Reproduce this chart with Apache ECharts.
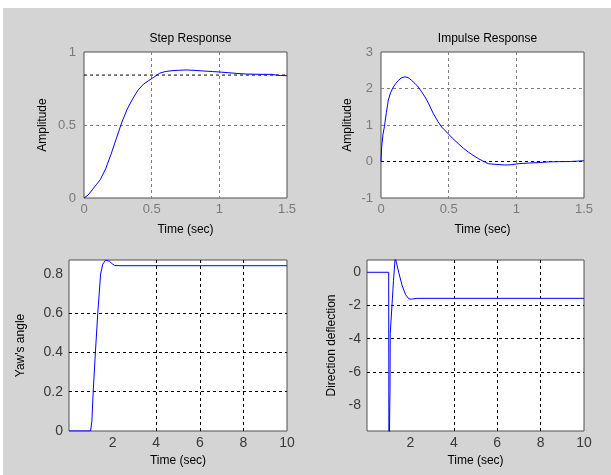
<!DOCTYPE html>
<html>
<head>
<meta charset="utf-8">
<script src="https://cdn.jsdelivr.net/npm/echarts@6/dist/echarts.min.js"></script>
<style>
html,body{margin:0;padding:0;background:#fff;width:611px;height:475px;overflow:hidden;}
#bg{position:absolute;left:3px;top:8px;width:608px;height:467px;background:#d4d4d4;}
#chart{position:absolute;left:0;top:0;width:611px;height:475px;}
</style>
</head>
<body>
<div id="bg"></div>
<div id="chart"></div>
<script>
// Step response
const stepT = [0,0.03,0.06,0.09,0.12,0.16,0.2,0.24,0.28,0.32,0.36,0.4,0.44,0.48,0.52,0.56,0.6,0.65,0.7,0.76,0.82,0.88,0.95,1.0,1.07,1.13,1.2,1.3,1.38,1.39,1.45,1.5];
const stepY = [0,0.02,0.055,0.09,0.125,0.2,0.3,0.41,0.52,0.61,0.68,0.74,0.78,0.805,0.83,0.855,0.866,0.872,0.875,0.877,0.874,0.87,0.866,0.863,0.858,0.853,0.849,0.847,0.847,0.839,0.839,0.838];
const stepFinal = 0.842;
// Impulse response
const impT = [0,0.005,0.015,0.025,0.04,0.054,0.07,0.091,0.11,0.128,0.15,0.177,0.2,0.227,0.25,0.276,0.3,0.325,0.35,0.387,0.42,0.448,0.497,0.53,0.571,0.61,0.645,0.68,0.719,0.76,0.793,0.85,0.916,0.96,1.015,1.1,1.163,1.24,1.31,1.4,1.5];
const impY = [0,0.4,0.75,0.95,1.35,1.68,1.88,2.04,2.14,2.22,2.29,2.32,2.30,2.22,2.14,2.04,1.91,1.77,1.6,1.31,1.1,0.945,0.76,0.63,0.49,0.36,0.26,0.17,0.08,0.0,-0.06,-0.08,-0.096,-0.09,-0.06,-0.04,-0.03,-0.01,-0.005,0.0,0.02];
const impFinal = 0;
// Yaw's angle
const yawT = [0,0.99,1.05,1.11,1.21,1.32,1.45,1.55,1.68,1.76,1.85,2.0,2.1,2.3,10];
const yawY = [0,0,0.05,0.2,0.4,0.6,0.8,0.85,0.87,0.875,0.865,0.85,0.843,0.842,0.842];
// Direction deflection
const dirT = [0,1.0,1.01,1.06,1.07,1.14,1.17,1.22,1.3,1.36,1.46,1.62,1.78,1.93,2.05,2.3,10];
const dirY = [0,0,-12,-7.1,-3.7,-3.6,-1.6,-0.5,0.9,0.9,0.0,-0.8,-1.35,-1.6,-1.62,-1.57,-1.57];

// Tick values / labels
const stepTicks = [0,0.5,1];
const impTicks = [-1,0,1,2,3];
const shortTimeTicks = [0,0.5,1,1.5];
const yawTicks = [0,0.2,0.4,0.6,0.8];
const dirTicks = [-8,-6,-4,-2,0];
const longTimeTicks = [2,4,6,8,10];

const titles = ['Step Response','Impulse Response'];
const timeLabel = 'Time (sec)';
const yNames = ['Amplitude','Amplitude',"Yaw's angle",'Direction deflection'];

const zip = (a,b)=>a.map((v,i)=>[v,b[i]]);
const FONT = 'Liberation Sans, Arial, sans-serif';

const grids = [
  {left:84, top:52, width:203, height:146},
  {left:381, top:52, width:203, height:146},
  {left:69, top:260, width:218, height:171},
  {left:367, top:260, width:217, height:171}
].map(g=>Object.assign(g,{show:true,backgroundColor:'#fff',borderColor:'#505050',borderWidth:1}));

function axisCommon(ticks, top){
  return {
    axisLine:{show:false},
    axisTick:{show:false, customValues: ticks},
    axisLabel:{color: top?'#7a7a7a':'#3a3a3a', fontSize: top?13:14, fontFamily:FONT, customValues: ticks},
    splitLine:{show:true, showMinLine:false, showMaxLine:false, lineStyle:{color: top?'#808080':'#000', type:[3,3], width:1}}
  };
}
function xAx(i, min, max, ticks, top){
  const c = axisCommon(ticks, top);
  c.axisLabel.margin = 5;
  return Object.assign({
    type:'value', gridIndex:i, min:min, max:max,
    name: timeLabel, nameLocation:'middle', nameGap: top?26:24,
    nameTextStyle:{color:'#000', fontSize:12, fontFamily:FONT}
  }, c);
}
function yAx(i, min, max, ticks, top, gap){
  const c = axisCommon(ticks, top);
  c.axisLabel.margin = top?8:6;
  return Object.assign({
    type:'value', gridIndex:i, min:min, max:max,
    name: yNames[i], nameLocation:'middle', nameGap: gap, nameRotate:90,
    nameTextStyle:{color:'#000', fontSize:12, fontFamily:FONT}
  }, c);
}

const blue = {color:'#0000ff', width:1};
const option = {
  animation:false,
  title: [
    {text:titles[0], left:185.5, top:28, textAlign:'center', textStyle:{fontSize:12, fontWeight:'normal', color:'#000', fontFamily:FONT}},
    {text:titles[1], left:482.5, top:28, textAlign:'center', textStyle:{fontSize:12, fontWeight:'normal', color:'#000', fontFamily:FONT}}
  ],
  grid: grids,
  xAxis: [xAx(0,0,1.5,shortTimeTicks,true), xAx(1,0,1.5,shortTimeTicks,true), xAx(2,0,10,longTimeTicks,false), xAx(3,0,10,longTimeTicks,false)],
  yAxis: [yAx(0,0,1,stepTicks,true,35), yAx(1,-1,3,impTicks,true,27), yAx(2,0,0.871,yawTicks,false,42), yAx(3,-9.56,0.74,dirTicks,false,29)],
  series: [
    {type:'line', xAxisIndex:0, yAxisIndex:0, data:[[0,stepFinal],[1.5,stepFinal]], showSymbol:false, lineStyle:{color:'#000', width:1, type:[3,3]}},
    {type:'line', xAxisIndex:0, yAxisIndex:0, data:zip(stepT,stepY), showSymbol:false, lineStyle:blue},
    {type:'line', xAxisIndex:1, yAxisIndex:1, data:[[0,impFinal],[1.5,impFinal]], showSymbol:false, lineStyle:{color:'#000', width:1, type:[3,3]}},
    {type:'line', xAxisIndex:1, yAxisIndex:1, data:zip(impT,impY), showSymbol:false, lineStyle:blue},
    {type:'line', xAxisIndex:2, yAxisIndex:2, data:zip(yawT,yawY), showSymbol:false, lineStyle:blue, clip:true},
    {type:'line', xAxisIndex:3, yAxisIndex:3, data:zip(dirT,dirY), showSymbol:false, lineStyle:blue, clip:true}
  ]
};
const chart = echarts.init(document.getElementById('chart'), null, {renderer:'canvas'});
chart.setOption(option);
</script>
</body>
</html>
